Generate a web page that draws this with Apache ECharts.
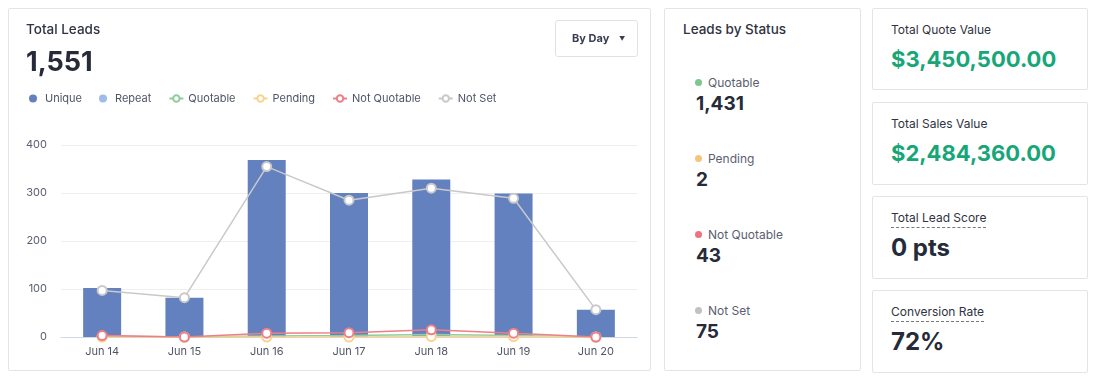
<!DOCTYPE html>
<html>
<head>
<meta charset="utf-8">
<script src="https://cdn.jsdelivr.net/npm/echarts@6/dist/echarts.min.js"></script>
<style>
    body { margin: 0; width: 1100px; height: 380px; background: #fff; font-family: Inter, "Noto Sans", sans-serif; color: #2b2f3e; position: relative; overflow: hidden; }
    .card { position: absolute; border: 1px solid #e4e4e4; border-radius: 2px; background: #fff; box-sizing: border-box; }
    .abs { position: absolute; white-space: nowrap; }
    .title { font-size: 13.5px; font-weight: 500; color: #2f3342; }
    .big { font-size: 24px; font-weight: 700; color: #262b3a; }
    .money { font-size: 22px; font-weight: 700; color: #17a678; }
    .label { font-size: 12px; color: #2f3342; }
    .dotted { border-bottom: 1px dashed #777; padding-bottom: 2px; }
    .st-label { font-size: 12px; color: #5b6070; }
    .st-label i { display: inline-block; width: 7px; height: 7px; border-radius: 50%; margin-right: 6px; vertical-align: 1px; }
    .st-value { font-size: 19px; font-weight: 700; color: #262b3a; }
    .btn { position: absolute; left: 546px; top: 11px; width: 83px; height: 37px; border: 1px solid #e2e2e2; border-radius: 3px; box-sizing: border-box; font-size: 11px; font-weight: 700; color: #3a3f52; line-height: 35px; padding-left: 16px; }
    #chart { position: absolute; left: 0; top: 0; width: 641px; height: 361px; }
</style>
</head>
<body>

<div class="card" style="left:8px; top:8px; width:643px; height:363px;">
    <div id="chart"></div>
    <div class="abs title" style="left:17px; top:12px;">Total Leads</div>
    <div class="abs big" style="left:17px; top:36px; font-size:27px;">1,551</div>
    <div class="btn">By Day <span style="font-size:6px; margin-left:7px; vertical-align:1px;">&#9660;</span></div>
</div>

<div class="card" style="left:664px; top:8px; width:197px; height:363px;">
    <div class="abs title" style="left:18px; top:12px;">Leads by Status</div>
    <div id="status"></div>
</div>

<div class="card" style="left:872px; top:8px; width:216px; height:82px;">
    <div class="abs label" style="left:18px; top:13px;">Total Quote Value</div>
    <div class="abs money" style="left:18px; top:37px;">$3,450,500.00</div>
</div>
<div class="card" style="left:872px; top:102px; width:216px; height:83px;">
    <div class="abs label" style="left:18px; top:13px;">Total Sales Value</div>
    <div class="abs money" style="left:18px; top:37px;">$2,484,360.00</div>
</div>
<div class="card" style="left:872px; top:196px; width:216px; height:83px;">
    <div class="abs label" style="left:18px; top:13px;"><span class="dotted">Total Lead Score</span></div>
    <div class="abs big" style="left:18px; top:36px;">0 pts</div>
</div>
<div class="card" style="left:872px; top:290px; width:216px; height:83px;">
    <div class="abs label" style="left:18px; top:13px;"><span class="dotted">Conversion Rate</span></div>
    <div class="abs big" style="left:18px; top:36px;">72%</div>
</div>

<script>
    // x axis
    const days = ['Jun 14', 'Jun 15', 'Jun 16', 'Jun 17', 'Jun 18', 'Jun 19', 'Jun 20'];

    // bars
    const unique = [102, 82, 369, 300, 328, 299, 57];
    const repeat = [0, 0, 0, 0, 0, 0, 0];

    // lines
    const quotable = [2, 0, 2, 3, 5, 3, 0];
    const pending = [0, 0, 0, 0, 1, 1, 0];
    const notQuotable = [3, 0, 8, 9, 15, 8, 0];
    const notSet = [97, 82, 355, 285, 310, 289, 57];

    const yTicks = [0, 100, 200, 300, 400];

    // side panel
    const statusNames = ['Quotable', 'Pending', 'Not Quotable', 'Not Set'];
    const statusTotals = ['1,431', '2', '43', '75'];
    const statusColors = ['#7cc68f', '#f7c47a', '#ee7281', '#bfc1c5'];

    let html = '';
    for (let i = 0; i < statusNames.length; i++) {
        let top = 66 + i * 76;
        html += '<div class="abs st-label" style="left:30px; top:' + top + 'px;"><i style="background:' + statusColors[i] + '"></i>' + statusNames[i] + '</div>';
        html += '<div class="abs st-value" style="left:31px; top:' + (top + 17) + 'px;">' + statusTotals[i] + '</div>';
    }
    document.getElementById('status').innerHTML = html;

    function lineSeries(name, data, color, z) {
        return {
            name: name,
            type: 'line',
            data: data,
            z: z,
            symbol: 'emptyCircle',
            symbolSize: 9,
            color: color,
            lineStyle: { width: 1.5, color: color },
            itemStyle: { color: color, borderWidth: 2 }
        };
    }

    const option = {
        animation: false,
        textStyle: { fontFamily: 'Inter, "Noto Sans", sans-serif' },
        legend: {
            left: 15,
            top: 79,
            itemWidth: 14,
            itemHeight: 8,
            itemGap: 17,
            textStyle: { color: '#4f5566', fontSize: 11 },
            data: [
                { name: 'Unique', icon: 'circle' },
                { name: 'Repeat', icon: 'circle' },
                'Quotable', 'Pending', 'Not Quotable', 'Not Set'
            ]
        },
        grid: { left: 52, right: 13, top: 136, bottom: 33 },
        xAxis: {
            type: 'category',
            data: days,
            axisLine: { lineStyle: { color: '#cfd8e3' } },
            axisTick: { show: false },
            axisLabel: { color: '#4f5566', fontSize: 11, margin: 9 }
        },
        yAxis: {
            type: 'value',
            min: yTicks[0],
            max: yTicks[yTicks.length - 1],
            interval: 100,
            axisLine: { show: false },
            axisTick: { show: false },
            axisLabel: { color: '#5b6070', fontSize: 11, margin: 14 },
            splitLine: { lineStyle: { color: '#efefef' } }
        },
        series: [
            { name: 'Unique', type: 'bar', stack: 'leads', data: unique, barWidth: 38, color: '#6380bf' },
            { name: 'Repeat', type: 'bar', stack: 'leads', data: repeat, barWidth: 38, color: '#9fbbea' },
            lineSeries('Quotable', quotable, '#91cc9c', 3),
            lineSeries('Pending', pending, '#f8d38c', 4),
            lineSeries('Not Quotable', notQuotable, '#ee7f88', 5),
            lineSeries('Not Set', notSet, '#c9c9c9', 6)
        ]
    };

    const chart = echarts.init(document.getElementById('chart'));
    chart.setOption(option);
</script>
</body>
</html>
